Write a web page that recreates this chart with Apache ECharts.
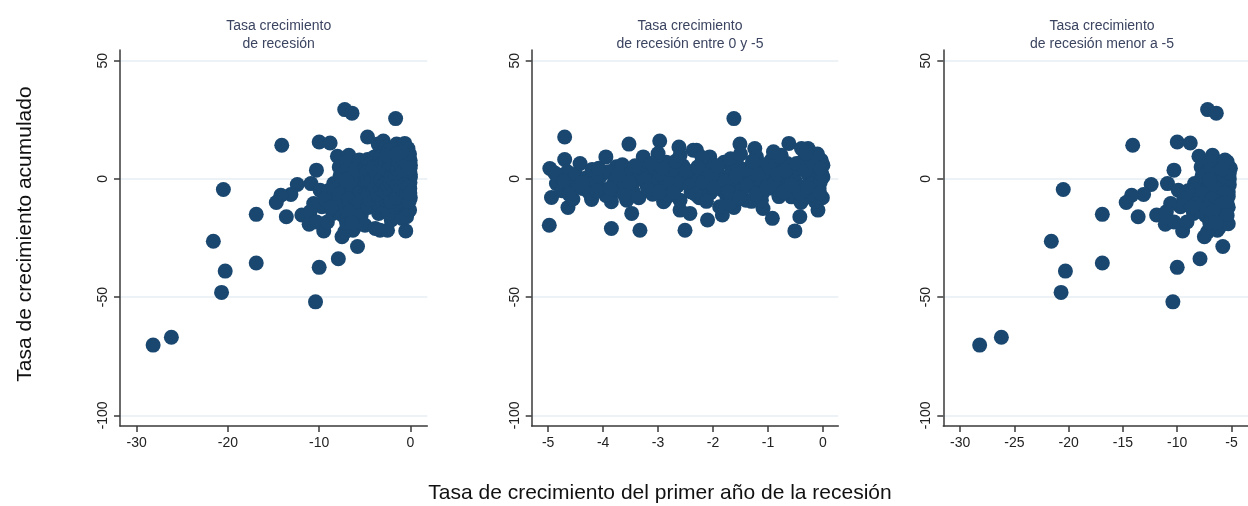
<!DOCTYPE html>
<html>
<head>
<meta charset="utf-8">
<script src="https://cdn.jsdelivr.net/npm/echarts@6/dist/echarts.min.js"></script>
<style>
  html, body { margin: 0; padding: 0; background: #ffffff; }
  #chart { width: 1248px; height: 506px; }
</style>
</head>
<body>
<div id="chart"></div>
<script>
// Países con recesión: [tasa del primer año, tasa acumulada]
// Recesiones cuyo primer año cae por debajo de -5
const recesionMenorA5 = [
  [-28.2, -70.3], [-26.2, -67.0], [-20.7, -48.0], [-20.3, -39.0], [-16.9, -35.6],
  [-10.0, -37.4], [-10.4, -52.0], [-7.9, -33.8], [-5.8, -28.6], [-21.6, -26.4],
  [-20.5, -4.5], [-16.9, -15.0], [-14.1, 14.2], [-7.2, 29.3], [-6.4, 27.8],
  [-10.0, 15.6], [-8.8, 15.2], [-8.0, 9.6], [-6.75, 10.0], [-5.4, 7.2],
  [-10.3, 3.7], [-10.9, -2.0], [-9.9, -4.8], [-12.4, -2.4], [-13.1, -6.6],
  [-14.2, -6.9], [-14.7, -10.0], [-13.6, -16.0], [-11.9, -15.3], [-11.1, -19.2],
  [-9.5, -22.0], [-7.5, -24.5], [-6.3, -21.7], [-9.7, -11.8], [-10.6, -10.4],
  [-11.0, -13.9], [-10.3, -18.2], [-9.1, -18.2], [-8.5, -14.6], [-6.1, -20.3],
  [-7.2, -22.4], [-7.8, 5.0], [-7.2, 2.0], [-6.6, 4.5], [-6.0, 6.0],
  [-5.5, 3.0], [-5.2, 0.0], [-7.5, -1.0], [-6.8, -2.5], [-6.2, -0.5],
  [-5.7, -3.0], [-5.3, -5.5], [-7.9, -4.0], [-7.3, -6.0], [-6.5, -7.5],
  [-5.9, -9.0], [-5.4, -10.5], [-7.6, -9.5], [-6.9, -11.0], [-6.2, -12.5],
  [-5.5, -13.5], [-8.2, -7.0], [-8.4, -2.0], [-5.3, -7.5], [-6.6, 0.8],
  [-7.0, 7.5], [-5.1, 4.5], [-5.6, 8.0], [-5.2, -2.5], [-8.0, -13.5],
  [-7.4, -15.5], [-6.5, -16.5], [-5.8, -17.0], [-8.8, -9.0], [-9.0, -5.0],
  [-5.3, -19.0], [-6.0, -15.0], [-7.0, -18.5],
  [-7.7, 1.5], [-6.9, 4.0], [-6.3, 2.5], [-5.8, 1.0], [-5.2, 2.5],
  [-7.1, -3.5], [-6.4, -4.0], [-5.6, -6.0], [-7.8, -6.5], [-6.8, -8.5],
  [-6.0, -11.0], [-5.3, -12.0], [-7.3, -12.5], [-6.7, -14.0], [-5.6, -10.0],
  [-8.3, -10.5], [-7.0, -0.5], [-5.9, 4.0], [-5.4, -15.5], [-6.4, -18.5],
  [-9.4, -8.5], [-8.7, -12.0]
];

// Recesiones cuyo primer año está entre 0 y -5
const recesionEntre0y5 = [
  [-4.98, -19.6], [-4.7, 17.7], [-4.97, 4.4], [-4.7, 8.2], [-4.94, -7.9],
  [-4.64, -12.1], [-3.85, -21.0], [-3.95, 9.3], [-3.53, 14.7], [-3.33, -21.7],
  [-3.48, -14.6], [-2.97, 16.0], [-3.0, 10.7], [-2.9, -9.7], [-2.62, 13.5],
  [-2.51, -21.7], [-2.3, 12.1], [-2.1, -17.4], [-1.83, -15.3], [-1.62, 25.5],
  [-1.51, 14.7], [-1.62, -12.1], [-1.24, 12.8], [-1.09, -12.5], [-0.92, -16.7],
  [-0.62, 15.0], [-0.51, -22.0], [-0.42, -16.0], [-0.27, 12.8], [-0.09, -13.2],
  [0.0, 5.8], [0.0, 0.8], [-0.07, -4.1], [-0.03, 7.9], [-4.42, 6.5],
  [-4.21, -8.7], [-4.36, -4.1], [-3.76, 5.1], [-3.85, -9.7], [-3.57, -9.0],
  [-3.27, 9.3], [-3.09, -6.2], [-2.88, -9.0], [-2.6, -13.2], [-2.42, -14.6],
  [-2.36, 12.1], [-2.06, 9.3], [-1.88, -11.8], [-1.21, 9.3], [-1.12, -9.0],
  [-0.94, 7.9], [-0.76, 10.0], [-0.57, -7.6], [-0.39, 12.8], [-0.24, 9.3],
  [-0.21, -7.6],
  [-4.85, -2.0], [-4.8, 1.5], [-4.75, -5.0], [-4.65, 3.0], [-4.6, -1.0],
  [-4.55, -8.5], [-4.5, 2.0], [-4.45, -3.5], [-4.3, 0.5], [-4.25, -6.0],
  [-4.2, 4.0], [-4.15, -2.0], [-4.05, 1.0], [-4.0, -4.5], [-3.95, -7.0],
  [-3.9, 3.0], [-3.8, -1.5], [-3.75, 0.5], [-3.7, -5.0], [-3.65, 6.0],
  [-3.6, -2.5], [-3.5, 2.5], [-3.45, -5.5], [-3.4, -0.5], [-3.35, -8.0],
  [-3.3, 4.0], [-3.2, -3.0], [-3.15, 1.0], [-3.1, -6.5], [-3.05, 5.0],
  [-3.0, -1.0], [-2.95, 2.0], [-2.9, -4.0], [-2.85, 7.0], [-2.8, -7.0],
  [-2.75, 0.0], [-2.7, 3.5], [-2.65, -3.0], [-2.6, -9.0], [-2.55, 5.5],
  [-2.5, -1.5], [-2.45, 1.5], [-2.4, -5.5], [-2.35, 3.0], [-2.3, -0.5],
  [-2.25, -8.0], [-2.2, 6.5], [-2.15, -3.0], [-2.1, 1.0], [-2.05, -6.0],
  [-2.0, 4.0], [-1.95, -1.0], [-1.9, 2.0], [-1.85, -4.5], [-1.8, 7.0],
  [-1.75, -7.5], [-1.7, 0.5], [-1.65, 3.5], [-1.6, -2.5], [-1.55, 5.5],
  [-1.5, -5.0], [-1.45, 1.0], [-1.4, -9.0], [-1.35, 2.5], [-1.3, -1.5],
  [-1.25, 4.5], [-1.2, -3.5], [-1.15, 0.0], [-1.1, -6.0], [-1.05, 6.0],
  [-1.0, -1.0], [-0.95, 2.5], [-0.9, -4.0], [-0.85, 4.0], [-0.8, -7.5],
  [-0.75, 0.5], [-0.7, -2.5], [-0.65, 6.5], [-0.6, -5.0], [-0.55, 2.0],
  [-0.5, -1.0], [-0.45, 4.5], [-0.4, -3.5], [-0.35, 8.0], [-0.3, -6.5],
  [-0.25, 1.0], [-0.2, -2.0], [-0.15, 5.0], [-0.12, -5.0], [-0.08, 3.0],
  [-0.05, -1.5], [-0.02, 2.0], [-0.01, -8.0], [-1.7, -10.5], [-0.4, -10.0],
  [-2.2, 9.0], [-0.1, 10.5], [-0.8, 9.5], [-1.3, -9.5],
  [-4.88, 2.5], [-4.72, -1.0], [-4.62, -6.5], [-4.38, -1.5], [-4.12, -5.0],
  [-4.08, 4.5], [-3.88, -4.0], [-3.72, 2.0], [-3.62, -6.5], [-3.52, -1.5],
  [-3.42, 5.5], [-3.25, -0.5], [-3.18, -4.5], [-3.12, 6.5], [-2.98, -5.5],
  [-2.92, 4.5], [-2.78, -2.0], [-2.72, -5.5], [-2.68, 7.5], [-2.58, -1.0],
  [-2.48, 3.5], [-2.42, -3.0], [-2.32, -6.5], [-2.28, 5.0], [-2.18, -1.5],
  [-2.12, -9.5], [-2.02, 1.5], [-1.98, -3.5], [-1.92, 5.5], [-1.78, -1.0],
  [-1.72, -5.5], [-1.68, 8.5], [-1.58, 1.5], [-1.52, -8.0], [-1.42, 4.0],
  [-1.38, -3.0], [-1.28, 7.5], [-1.22, -6.5], [-1.18, 2.0], [-1.02, -4.0],
  [-0.98, 5.0], [-0.88, -1.5], [-0.82, 2.0], [-0.72, -5.5], [-0.68, 3.5],
  [-0.58, -2.5], [-0.48, 6.5], [-0.42, -6.0], [-0.32, 3.5], [-0.28, -3.5],
  [-0.18, 7.0], [-0.14, -9.5], [-0.04, 4.5], [-0.06, -6.0], [-0.3, 11.0],
  [-0.9, 11.5], [-2.6, 10.0], [-1.5, 10.5]
];

// Todas las recesiones
const recesionTotal = recesionMenorA5.concat(recesionEntre0y5);

// Marcas de los ejes
const ticksY = [-100, -50, 0, 50];
const ticksXTotal = [-30, -20, -10, 0];
const ticksXEntre = [-5, -4, -3, -2, -1, 0];
const ticksXMenor = [-30, -25, -20, -15, -10, -5];

const titulos = [
  'Tasa crecimiento\nde recesión',
  'Tasa crecimiento\nde recesión entre 0 y -5',
  'Tasa crecimiento\nde recesión menor a -5'
];
const tituloY = 'Tasa de crecimiento acumulado';
const tituloX = 'Tasa de crecimiento del primer año de la recesión';

const FONT = '"Liberation Sans", Arial, sans-serif';
const NAVY = '#1a476f';
const AXIS = '#3a3a3a';

const paneles = [
  { left: 120, width: 307.3, min: -31.83, max: 1.85, ticks: ticksXTotal, data: recesionTotal },
  { left: 531.7, width: 306.6, min: -5.3, max: 0.28, ticks: ticksXEntre, data: recesionEntre0y5 },
  { left: 943.3, width: 307.5, min: -31.55, max: -3.48, ticks: ticksXMenor, data: recesionMenorA5 }
];

const chart = echarts.init(document.getElementById('chart'), null, { renderer: 'canvas' });

const option = {
  backgroundColor: '#ffffff',
  animation: false,
  title: paneles.map((p, i) => ({
    text: titulos[i],
    left: p.left + p.width / 2,
    top: 12,
    textAlign: 'center',
    textStyle: {
      fontFamily: FONT, fontSize: 14, fontWeight: 'normal',
      color: '#3b4460', lineHeight: 18
    }
  })),
  grid: paneles.map(p => ({ left: p.left, width: p.width, top: 50, height: 376 })),
  xAxis: paneles.map((p, i) => ({
    type: 'value',
    gridIndex: i,
    min: p.min,
    max: p.max,
    axisLine: { show: true, onZero: false, lineStyle: { color: AXIS, width: 1.5 } },
    axisTick: { show: true, length: 6, customValues: p.ticks, lineStyle: { color: AXIS, width: 1.5 } },
    axisLabel: {
      customValues: p.ticks, margin: 10, fontFamily: FONT, fontSize: 14, color: '#222222'
    },
    splitLine: { show: false }
  })),
  yAxis: paneles.map((p, i) => ({
    type: 'value',
    gridIndex: i,
    min: -104.5,
    max: 54.5,
    axisLine: { show: true, onZero: false, lineStyle: { color: AXIS, width: 1.5 } },
    axisTick: { show: true, length: 6, customValues: ticksY, lineStyle: { color: AXIS, width: 1.5 } },
    axisLabel: {
      customValues: ticksY, rotate: 90, margin: 10, fontFamily: FONT, fontSize: 14, color: '#222222'
    },
    splitLine: { show: true, lineStyle: { color: '#e6eef2', width: 1.5 } }
  })),
  series: paneles.map((p, i) => ({
    type: 'scatter',
    xAxisIndex: i,
    yAxisIndex: i,
    data: p.data,
    symbol: 'circle',
    symbolSize: 15,
    itemStyle: { color: NAVY, opacity: 1 },
    silent: true
  })),
  graphic: [
    {
      type: 'text',
      x: 25, y: 234,
      rotation: Math.PI / 2,
      style: {
        text: tituloY, fontFamily: FONT, fontSize: 21, fill: '#111111',
        align: 'center', verticalAlign: 'middle'
      }
    },
    {
      type: 'text',
      x: 660, y: 493,
      style: {
        text: tituloX, fontFamily: FONT, fontSize: 21, fill: '#111111',
        align: 'center', verticalAlign: 'middle'
      }
    }
  ]
};

chart.setOption(option);
</script>
</body>
</html>
